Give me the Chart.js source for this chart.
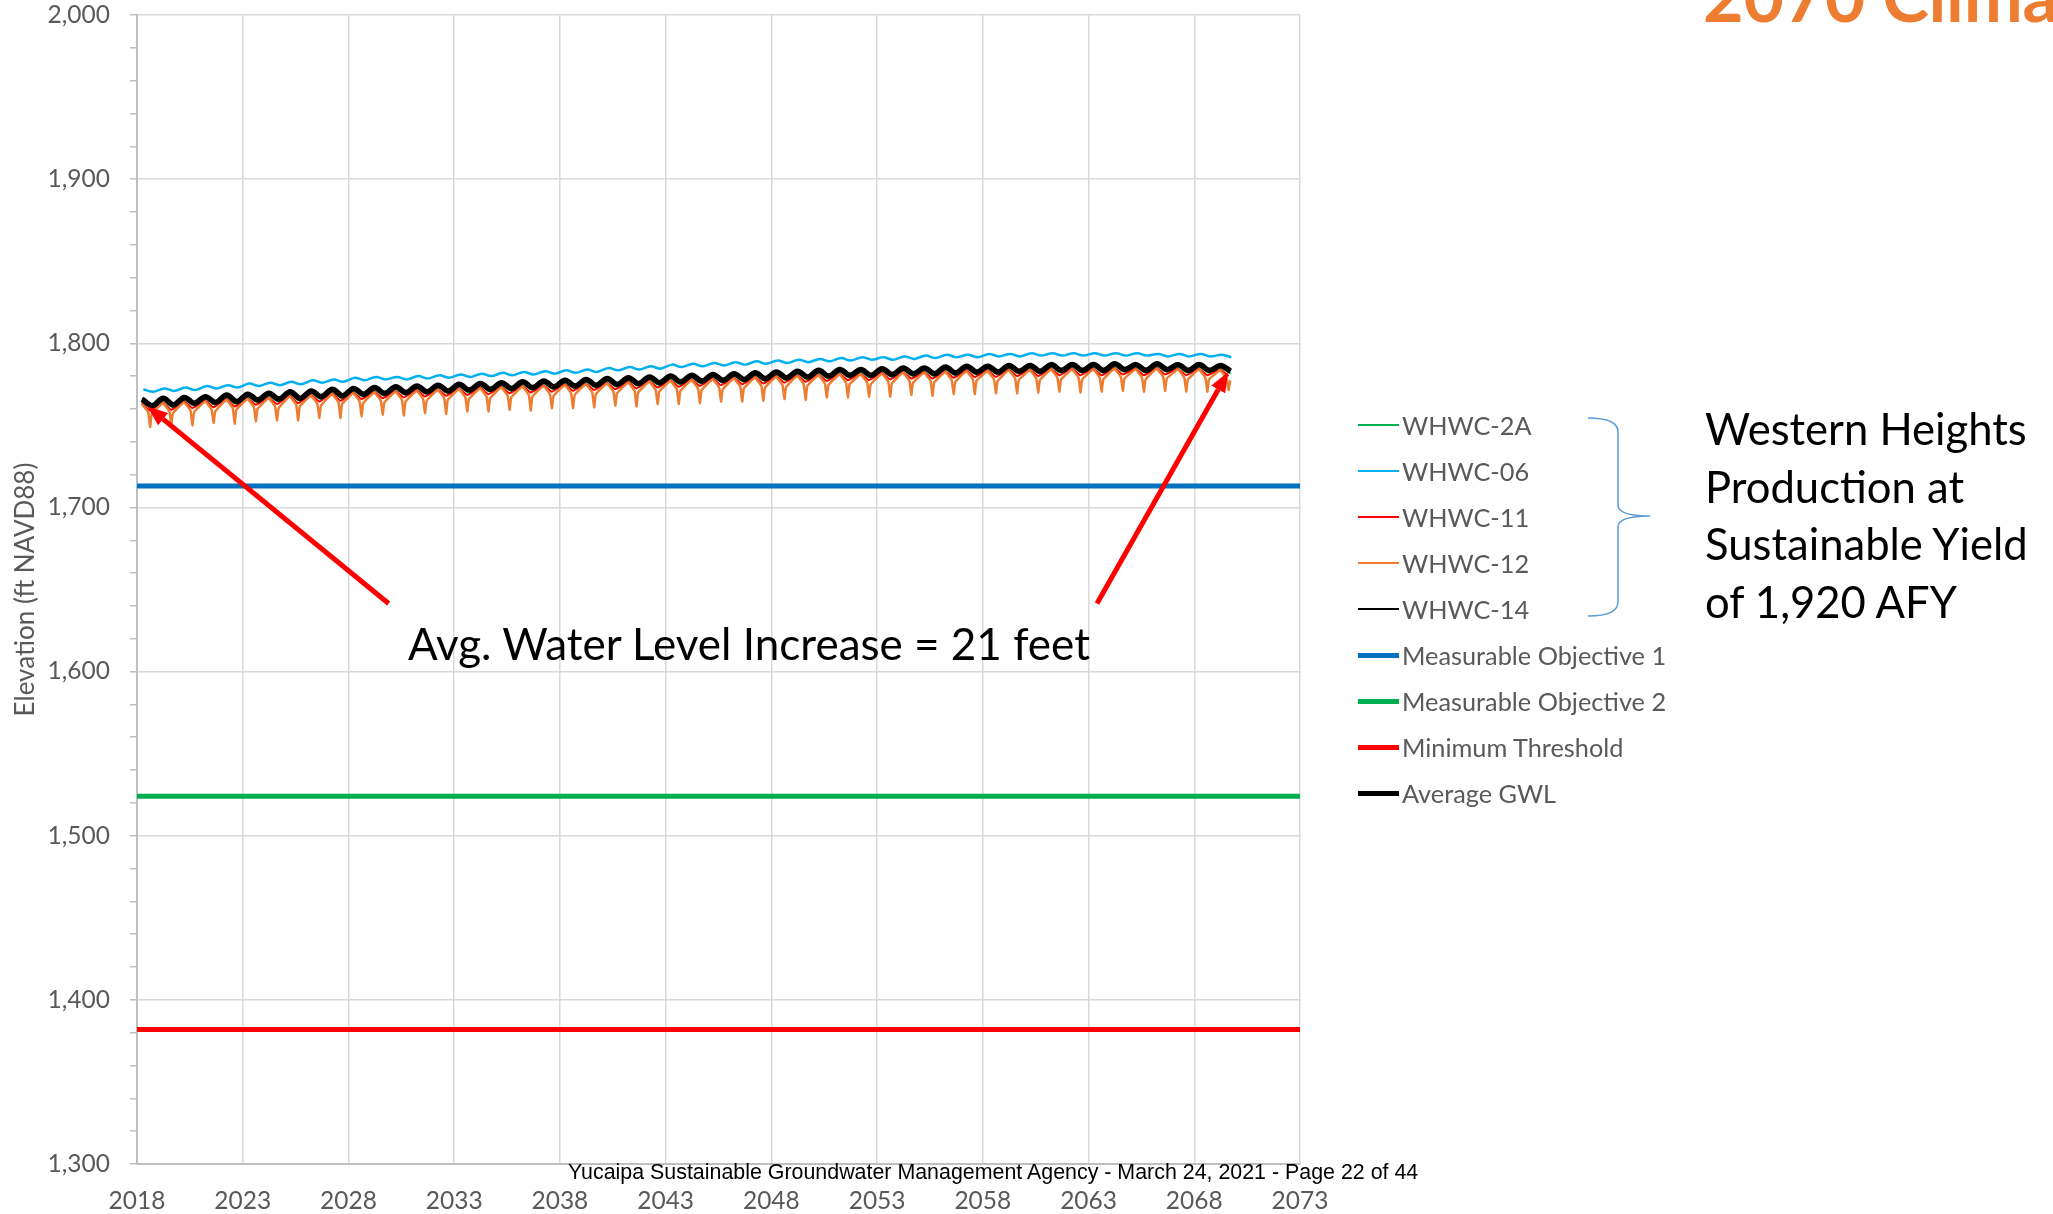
<!DOCTYPE html>
<html>
<head>
<meta charset="utf-8">
<script src="https://cdn.jsdelivr.net/npm/chart.js@4.4.0/dist/chart.umd.min.js"></script>
<style>
  html, body { margin: 0; padding: 0; background: #fff; overflow: hidden; }
  body { width: 2053px; height: 1214px; position: relative; font-family: Lato, sans-serif; }
  #chart { position: absolute; left: 0; top: 0; }
  .title { position: absolute; left: 1703px; top: -40px; font-weight: bold; font-size: 70px; line-height: 70px; color: #ED7D31; white-space: nowrap; }
  .note { position: absolute; left: 408px; top: 617px; font-size: 44px; color: #000; white-space: nowrap; }
  .side { position: absolute; left: 1705px; top: 400px; font-size: 43.6px; line-height: 57.7px; color: #000; white-space: nowrap; }
  .footer { position: absolute; left: 568px; top: 1160px; font-family: "Liberation Sans", Arial, sans-serif; font-size: 21.4px; color: #000; white-space: nowrap; }
  .legend-row { position: absolute; left: 1358px; height: 30px; display: flex; align-items: center; font-size: 25.3px; color: #595959; white-space: nowrap; }
  .legend-row span.swatch { display: inline-block; width: 41px; margin-right: 3px; }
  svg.brace { position: absolute; left: 0; top: 0; }
</style>
</head>
<body>
<canvas id="chart" width="2053" height="1214"></canvas>
<div class="title">2070 Climate</div>
<div class="note">Avg. Water Level Increase = 21 feet</div>
<div class="side">Western Heights<br>Production at<br>Sustainable Yield<br>of 1,920 AFY</div>
<div class="footer">Yucaipa Sustainable Groundwater Management Agency - March 24, 2021 - Page 22 of 44</div>
<svg class="brace" width="2053" height="1214">
  <path d="M1588,418 Q1618,418 1618,432 L1618,505 Q1618,516 1650,516 Q1618,516 1618,527 L1618,602 Q1618,616 1588,616" fill="none" stroke="#5B9BD5" stroke-width="1.5"/>
</svg>
<div id="legend"></div>
<script>
// years of the simulation (one seasonal cycle each)
const years = [2018,2019,2020,2021,2022,2023,2024,2025,2026,2027,
  2028,2029,2030,2031,2032,2033,2034,2035,2036,2037,
  2038,2039,2040,2041,2042,2043,2044,2045,2046,2047,
  2048,2049,2050,2051,2052,2053,2054,2055,2056,2057,
  2058,2059,2060,2061,2062,2063,2064,2065,2066,2067,
  2068,2069];

const xTickLabels = [2018,2023,2028,2033,2038,2043,2048,2053,2058,2063,2068,2073];
const yTickLabels = [1300,1400,1500,1600,1700,1800,1900,2000];

// WHWC-2A (green)
const green2AHigh = [1764.5,1765.0,1765.5,1766.0,1767.0,1767.5,1768.0,1769.0,1769.5,1770.5,
  1771.0,1771.5,1772.0,1772.5,1773.0,1773.5,1774.0,1774.5,1775.0,1775.5,
  1776.0,1776.5,1777.0,1777.5,1778.0,1778.5,1779.0,1779.5,1780.0,1780.5,
  1781.0,1781.5,1782.0,1782.5,1782.5,1783.0,1783.5,1783.5,1784.0,1784.5,
  1784.5,1785.0,1785.0,1785.5,1785.5,1785.5,1786.0,1785.5,1786.0,1785.5,
  1785.5,1785.0];
const green2ALow = [1760.5,1761.0,1762.0,1762.5,1763.0,1764.0,1764.5,1765.0,1766.0,1766.5,
  1767.5,1768.0,1768.5,1769.0,1769.5,1770.0,1770.5,1771.0,1771.5,1772.0,
  1772.5,1773.0,1773.5,1774.0,1774.5,1775.0,1775.5,1776.0,1776.5,1777.0,
  1777.5,1778.0,1778.5,1779.0,1779.0,1779.5,1780.0,1780.0,1780.5,1781.0,
  1781.0,1781.5,1781.5,1782.0,1782.0,1782.0,1782.5,1782.0,1782.5,1782.0,
  1782.0,1781.5];

// WHWC-06 (light blue)
const blue06High = [1772.0,1772.5,1773.0,1774.0,1774.5,1775.5,1776.0,1776.5,1777.5,1778.0,
  1779.0,1779.5,1779.5,1780.0,1780.5,1781.0,1781.5,1782.0,1782.5,1783.0,
  1783.5,1784.0,1785.0,1785.5,1786.0,1787.0,1787.5,1788.0,1788.5,1789.0,
  1789.5,1790.0,1790.5,1791.0,1791.5,1791.5,1792.0,1792.5,1793.0,1793.0,
  1793.5,1793.5,1794.0,1794.0,1794.0,1794.0,1794.0,1794.0,1793.5,1793.5,
  1793.5,1793.0];
const blue06Low = [1770.5,1771.0,1771.5,1772.5,1773.0,1774.0,1774.5,1775.0,1776.0,1776.5,
  1777.5,1778.0,1778.0,1778.5,1779.0,1779.5,1780.0,1780.5,1781.0,1781.5,
  1782.0,1782.5,1783.5,1784.0,1784.5,1785.5,1786.0,1786.5,1787.0,1787.5,
  1788.0,1788.5,1789.0,1789.5,1790.0,1790.0,1790.5,1791.0,1791.5,1791.5,
  1792.0,1792.0,1792.5,1792.5,1792.5,1792.5,1792.5,1792.5,1792.0,1792.0,
  1792.0,1791.5];

// WHWC-11 (red)
const red11High = [1763.5,1764.0,1764.5,1765.0,1766.0,1766.5,1767.0,1768.0,1768.5,1769.5,
  1770.0,1770.5,1771.0,1771.5,1772.0,1772.5,1773.0,1773.5,1774.0,1774.5,
  1775.0,1775.5,1776.0,1776.5,1777.0,1777.5,1778.0,1778.5,1779.0,1779.5,
  1780.0,1780.5,1781.0,1781.5,1781.5,1782.0,1782.5,1782.5,1783.0,1783.5,
  1783.5,1784.0,1784.0,1784.5,1784.5,1784.5,1785.0,1784.5,1785.0,1784.5,
  1784.5,1784.0];
const red11Low = [1759.0,1759.5,1760.5,1761.0,1761.5,1762.5,1763.0,1763.5,1764.5,1765.0,
  1766.0,1766.5,1767.0,1767.5,1768.0,1768.5,1769.0,1769.5,1770.0,1770.5,
  1771.0,1771.5,1772.0,1772.5,1773.0,1773.5,1774.0,1774.5,1775.0,1775.5,
  1776.0,1776.5,1777.0,1777.5,1777.5,1778.0,1778.5,1778.5,1779.0,1779.5,
  1779.5,1780.0,1780.0,1780.5,1780.5,1780.5,1781.0,1780.5,1781.0,1780.5,
  1780.5,1780.0];

// WHWC-12 (orange): peak, before pumping dip, bottom of dip, after dip
const orange12High = [1763.0,1763.5,1764.0,1764.5,1765.5,1766.0,1766.5,1767.5,1768.0,1769.0,
  1769.5,1770.0,1770.5,1771.0,1771.5,1772.0,1772.5,1773.0,1773.5,1774.0,
  1774.5,1775.0,1775.5,1776.0,1776.5,1777.0,1777.5,1778.0,1778.5,1779.0,
  1779.5,1780.0,1780.5,1781.0,1781.0,1781.5,1782.0,1782.0,1782.5,1783.0,
  1783.0,1783.5,1783.5,1784.0,1784.0,1784.0,1784.5,1784.0,1784.5,1784.0,
  1784.0,1783.5];
const orange12Pre = [1758.0,1758.5,1759.0,1759.5,1760.5,1761.0,1761.5,1762.5,1763.0,1764.0,
  1764.5,1765.0,1765.5,1766.0,1766.5,1767.0,1767.5,1768.0,1768.5,1769.0,
  1769.5,1770.0,1770.5,1771.0,1771.5,1772.0,1772.5,1773.0,1773.5,1774.0,
  1774.5,1775.0,1775.5,1776.0,1776.0,1776.5,1777.0,1777.0,1777.5,1778.0,
  1778.0,1778.5,1778.5,1779.0,1779.0,1779.0,1779.5,1779.0,1779.5,1779.0,
  1779.0,1778.5];
const orange12Dip = [1749.0,1750.5,1750.0,1751.5,1751.0,1752.5,1753.0,1753.0,1754.5,1754.5,
  1755.5,1756.5,1756.0,1757.5,1757.0,1758.5,1758.5,1759.5,1759.0,1760.5,
  1760.5,1761.0,1762.0,1761.5,1763.0,1763.0,1763.5,1764.5,1764.5,1765.0,
  1766.0,1765.5,1767.0,1767.0,1767.5,1767.5,1768.5,1768.0,1769.0,1769.0,
  1769.5,1769.5,1770.0,1770.5,1770.0,1770.5,1771.0,1770.5,1771.0,1770.5,
  1770.5,1771.5];
const orange12Post = [1757.0,1757.5,1758.0,1758.5,1759.5,1760.0,1760.5,1761.5,1762.0,1763.0,
  1763.5,1764.0,1764.5,1765.0,1765.5,1766.0,1766.5,1767.0,1767.5,1768.0,
  1768.5,1769.0,1769.5,1770.0,1770.5,1771.0,1771.5,1772.0,1772.5,1773.0,
  1773.5,1774.0,1774.5,1775.0,1775.0,1775.5,1776.0,1776.0,1776.5,1777.0,
  1777.0,1777.5,1777.5,1778.0,1778.0,1778.0,1778.5,1778.0,1778.5,1778.0,
  1778.0,1777.5];

// WHWC-14 (thin black)
const black14High = [1766.5,1767.0,1767.0,1768.0,1769.0,1769.5,1770.0,1770.5,1771.5,1772.5,
  1773.0,1773.5,1774.0,1774.5,1775.0,1775.5,1776.0,1776.5,1777.0,1777.5,
  1778.0,1778.5,1779.0,1779.5,1780.0,1780.5,1781.0,1781.5,1782.0,1782.5,
  1783.0,1783.5,1784.0,1784.5,1784.5,1785.0,1785.5,1785.5,1786.0,1786.5,
  1786.5,1787.0,1787.0,1787.5,1787.5,1787.5,1788.0,1787.5,1788.0,1787.5,
  1787.5,1787.0];
const black14Low = [1762.5,1763.0,1764.0,1764.5,1765.0,1766.0,1766.5,1767.0,1768.0,1768.5,
  1769.5,1770.0,1770.5,1771.0,1771.5,1772.0,1772.5,1773.0,1773.5,1774.0,
  1774.5,1775.0,1775.5,1776.0,1776.5,1777.0,1777.5,1778.0,1778.5,1779.0,
  1779.5,1780.0,1780.5,1781.0,1781.0,1781.5,1782.0,1782.0,1782.5,1783.0,
  1783.0,1783.5,1783.5,1784.0,1784.0,1784.0,1784.5,1784.0,1784.5,1784.0,
  1784.0,1783.5];

// Average GWL (thick black)
const avgHigh = [1766.0,1766.5,1767.0,1767.5,1768.5,1769.0,1769.5,1770.5,1771.0,1772.0,
  1772.5,1773.0,1773.5,1774.0,1774.5,1775.0,1775.5,1776.0,1776.5,1777.0,
  1777.5,1778.0,1778.5,1779.0,1779.5,1780.0,1780.5,1781.0,1781.5,1782.0,
  1782.5,1783.0,1783.5,1784.0,1784.0,1784.5,1785.0,1785.0,1785.5,1786.0,
  1786.0,1786.5,1786.5,1787.0,1787.0,1787.0,1787.5,1787.0,1787.5,1787.0,
  1787.0,1786.5];
const avgLow = [1762.0,1762.5,1763.5,1764.0,1764.5,1765.5,1766.0,1766.5,1767.5,1768.0,
  1769.0,1769.5,1770.0,1770.5,1771.0,1771.5,1772.0,1772.5,1773.0,1773.5,
  1774.0,1774.5,1775.0,1775.5,1776.0,1776.5,1777.0,1777.5,1778.0,1778.5,
  1779.0,1779.5,1780.0,1780.5,1780.5,1781.0,1781.5,1781.5,1782.0,1782.5,
  1782.5,1783.0,1783.0,1783.5,1783.5,1783.5,1784.0,1783.5,1784.0,1783.5,
  1783.5,1783.0];

// thresholds (ft NAVD88)
const measurableObjective1 = 1713;
const measurableObjective2 = 1524;
const minimumThreshold = 1382;

// arrows: [year, elevation] tail -> head
const arrows = [
  { from: [2029.9, 1641.5], to: [2018.5, 1761.5] },
  { from: [2063.4, 1641.5], to: [2069.6, 1782.5] }
];

function twoPhase(hi, lo, pHi, pLo) {
  const pts = [];
  years.forEach((yr, i) => {
    pts.push({ x: yr + pHi, y: hi[i] });
    pts.push({ x: yr + pLo, y: lo[i] });
  });
  return pts;
}

function orangePoints() {
  const pts = [];
  years.forEach((yr, i) => {
    pts.push({ x: yr + 0.22, y: orange12High[i] });
    pts.push({ x: yr + 0.53, y: orange12Pre[i] });
    pts.push({ x: yr + 0.62, y: orange12Dip[i] });
    pts.push({ x: yr + 0.70, y: orange12Post[i] });
  });
  return pts;
}

function flat(v) {
  return [{ x: xTickLabels[0], y: v }, { x: xTickLabels[xTickLabels.length - 1], y: v }];
}

const datasets = [
  { label: 'WHWC-2A', data: twoPhase(green2AHigh, green2ALow, 0.24, 0.72), borderColor: '#00B050', borderWidth: 2, tension: 0.35, order: 4 },
  { label: 'WHWC-06', data: twoPhase(blue06High, blue06Low, 0.3, 0.75), borderColor: '#00B0F0', borderWidth: 2.5, tension: 0.35, order: 5 },
  { label: 'WHWC-11', data: twoPhase(red11High, red11Low, 0.22, 0.62), borderColor: '#FF0000', borderWidth: 2, tension: 0.15, order: 3 },
  { label: 'WHWC-12', data: orangePoints(), borderColor: '#ED7D31', borderWidth: 2.5, tension: 0.1, order: 2 },
  { label: 'WHWC-14', data: twoPhase(black14High, black14Low, 0.24, 0.72), borderColor: '#000000', borderWidth: 2, tension: 0.35, order: 1 },
  { label: 'Measurable Objective 1', data: flat(measurableObjective1), borderColor: '#0070C0', borderWidth: 5, order: 6 },
  { label: 'Measurable Objective 2', data: flat(measurableObjective2), borderColor: '#00B050', borderWidth: 5, order: 7 },
  { label: 'Minimum Threshold', data: flat(minimumThreshold), borderColor: '#FF0000', borderWidth: 5, order: 8 },
  { label: 'Average GWL', data: twoPhase(avgHigh, avgLow, 0.24, 0.72), borderColor: '#000000', borderWidth: 5.5, tension: 0.35, order: 0 }
];

const arrowPlugin = {
  id: 'arrows',
  afterDatasetsDraw(chart) {
    const { ctx, scales: { x, y } } = chart;
    arrows.forEach(a => {
      const x0 = x.getPixelForValue(a.from[0]), y0 = y.getPixelForValue(a.from[1]);
      const x1 = x.getPixelForValue(a.to[0]), y1 = y.getPixelForValue(a.to[1]);
      const ang = Math.atan2(y1 - y0, x1 - x0);
      const head = 20, half = 8;
      const bx = x1 - head * Math.cos(ang), by = y1 - head * Math.sin(ang);
      ctx.save();
      ctx.strokeStyle = '#FF0000';
      ctx.fillStyle = '#FF0000';
      ctx.lineWidth = 5;
      ctx.beginPath(); ctx.moveTo(x0, y0); ctx.lineTo(bx, by); ctx.stroke();
      ctx.beginPath();
      ctx.moveTo(x1, y1);
      ctx.lineTo(bx + half * Math.sin(ang), by - half * Math.cos(ang));
      ctx.lineTo(bx - half * Math.sin(ang), by + half * Math.cos(ang));
      ctx.closePath(); ctx.fill();
      ctx.restore();
    });
  }
};

function buildLegend() {
  const box = document.getElementById('legend');
  datasets.forEach((ds, i) => {
    const row = document.createElement('div');
    row.className = 'legend-row';
    row.style.top = (425 + i * 46 - 15) + 'px';
    const sw = document.createElement('span');
    sw.className = 'swatch';
    sw.style.height = (ds.borderWidth >= 5 ? 5 : 2) + 'px';
    sw.style.background = ds.borderColor;
    row.appendChild(sw);
    row.appendChild(document.createTextNode(ds.label));
    box.appendChild(row);
  });
}

function draw() {
  new Chart(document.getElementById('chart'), {
    type: 'line',
    data: { datasets: datasets },
    options: {
      responsive: false,
      animation: false,
      devicePixelRatio: 1,
      layout: { padding: { top: 15, right: 753, left: 0, bottom: 0 } },
      elements: { point: { radius: 0 }, line: { borderCapStyle: 'butt' } },
      plugins: { legend: { display: false }, tooltip: { enabled: false } },
      scales: {
        x: {
          type: 'linear', min: 2018, max: 2073,
          afterBuildTicks: s => { s.ticks = xTickLabels.map(v => ({ value: v })); },
          afterFit: s => { s.height = 50; s.paddingLeft = 0; s.paddingRight = 0; },
          grid: { color: '#d9d9d9', lineWidth: 1.5, drawTicks: false },
          border: { color: '#bfbfbf', width: 2 },
          ticks: { color: '#595959', font: { family: 'Lato', size: 24.5 }, padding: 22, maxRotation: 0, autoSkip: false, callback: v => String(v) }
        },
        y: {
          min: 1300, max: 2000,
          afterBuildTicks: s => {
            const t = [];
            for (let v = yTickLabels[0]; v <= yTickLabels[yTickLabels.length - 1]; v += 20) t.push({ value: v });
            s.ticks = t;
          },
          afterFit: s => { s.width = 137; s.paddingTop = 0; s.paddingBottom = 0; },
          grid: {
            color: c => (c.tick && yTickLabels.includes(c.tick.value)) ? '#d9d9d9' : 'rgba(0,0,0,0)',
            lineWidth: 1.5, tickColor: '#bfbfbf', tickLength: 7
          },
          border: { color: '#bfbfbf', width: 2 },
          ticks: { color: '#595959', font: { family: 'Lato', size: 24.5 }, padding: 20, autoSkip: false,
            callback: v => yTickLabels.includes(v) ? v.toLocaleString('en-US') : '' },
          title: { display: true, text: 'Elevation (ft NAVD88)', color: '#595959', font: { family: 'Lato', size: 26 }, padding: { top: 10, bottom: 0 } }
        }
      }
    },
    plugins: [arrowPlugin]
  });
}

buildLegend();
document.fonts.load('24px Lato').then(draw, draw);
</script>
</body>
</html>
